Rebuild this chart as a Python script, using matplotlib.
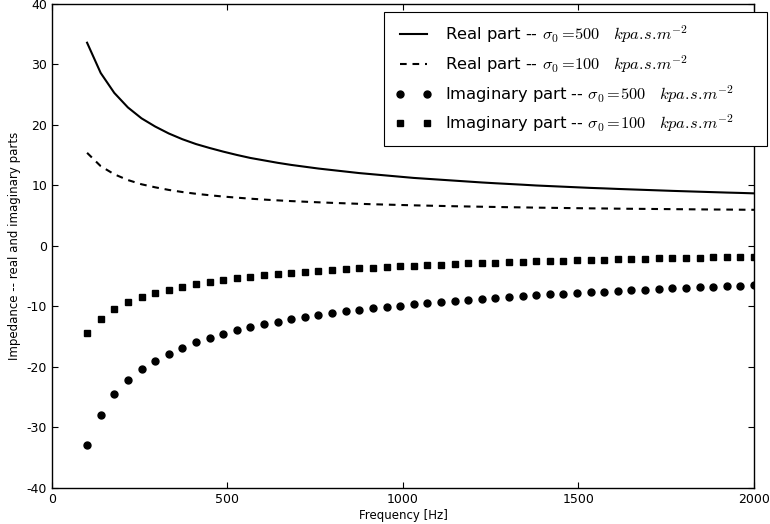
import numpy as np
import matplotlib
matplotlib.use('Agg')
import matplotlib.pyplot as plt

# Frequencies of the sampled points (50 points from 100 to 2000 Hz)
freq = np.linspace(100, 2000, 50)

# Values
real_500 = [33.6, 28.6, 25.3, 22.9, 21.1, 19.75, 18.6, 17.65, 16.85, 16.2,
            15.6, 15.05, 14.55, 14.15, 13.75, 13.4, 13.1, 12.8, 12.55, 12.3,
            12.05, 11.85, 11.65, 11.45, 11.25, 11.1, 10.95, 10.8, 10.65, 10.5,
            10.37, 10.25, 10.13, 10.0, 9.9, 9.8, 9.7, 9.6, 9.52, 9.43,
            9.35, 9.27, 9.19, 9.11, 9.04, 8.97, 8.9, 8.83, 8.77, 8.7]
real_100 = [15.4, 13.2, 11.85, 10.9, 10.2, 9.7, 9.27, 8.92, 8.63, 8.39,
            8.17, 7.99, 7.82, 7.67, 7.54, 7.42, 7.32, 7.22, 7.13, 7.05,
            6.97, 6.9, 6.84, 6.78, 6.72, 6.67, 6.62, 6.57, 6.53, 6.49,
            6.45, 6.41, 6.38, 6.34, 6.31, 6.28, 6.25, 6.22, 6.2, 6.17,
            6.15, 6.13, 6.11, 6.09, 6.07, 6.05, 6.03, 6.02, 6.0, 5.98]
imag_500 = [-32.9, -27.9, -24.5, -22.1, -20.35, -18.95, -17.8, -16.8, -15.95, -15.2,
            -14.55, -13.95, -13.45, -12.95, -12.5, -12.1, -11.75, -11.42, -11.1, -10.82,
            -10.55, -10.3, -10.06, -9.84, -9.63, -9.43, -9.24, -9.06, -8.89, -8.73,
            -8.57, -8.42, -8.28, -8.14, -8.01, -7.88, -7.76, -7.64, -7.53, -7.42,
            -7.31, -7.21, -7.11, -7.01, -6.92, -6.83, -6.74, -6.65, -6.57, -6.49]
imag_100 = [-14.3, -12.0, -10.45, -9.3, -8.45, -7.8, -7.2, -6.75, -6.35, -5.95,
            -5.65, -5.35, -5.08, -4.85, -4.65, -4.45, -4.28, -4.12, -3.97, -3.83,
            -3.7, -3.58, -3.46, -3.35, -3.25, -3.15, -3.06, -2.97, -2.89, -2.81,
            -2.73, -2.66, -2.59, -2.53, -2.47, -2.41, -2.35, -2.3, -2.25, -2.2,
            -2.15, -2.1, -2.06, -2.02, -1.98, -1.94, -1.9, -1.86, -1.83, -1.8]

plt.rcParams['mathtext.fontset'] = 'cm'
plt.rcParams['axes.unicode_minus'] = False

fig = plt.figure(figsize=(7.7, 5.24), dpi=100)
ax = fig.add_axes([0.0675, 0.0687, 0.9117, 0.9237])

unit = r'\quad kpa.\!s.\!m^{-2}$'
ax.plot(freq, real_500, 'k-', linewidth=1.5,
        label=r'Real part -- $\sigma_0 =\!500 ' + unit)
ax.plot(freq, real_100, 'k', linestyle=(0, (3.2, 2.8)), linewidth=1.5,
        label=r'Real part -- $\sigma_0 =\!100 ' + unit)
ax.plot(freq, imag_500, 'ko', markersize=5, linestyle='none',
        label=r'Imaginary part -- $\sigma_0 =\!500 ' + unit)
ax.plot(freq, imag_100, 'ks', markersize=5, linestyle='none',
        label=r'Imaginary part -- $\sigma_0 =\!100 ' + unit)

ax.set_xlim(0, 2000)
ax.set_ylim(-40, 40)
ax.set_xticks([0, 500, 1000, 1500, 2000])
ax.set_yticks(range(-40, 41, 10))
ax.tick_params(direction='in', top=True, right=True, length=4.5, labelsize=9)
for s in ax.spines.values():
    s.set_linewidth(1.0)

ax.set_xlabel('Frequency [Hz]', fontsize=8.5, labelpad=2)
ax.set_ylabel('Impedance -- real and imaginary parts', fontsize=8.5)

# legend box spans slightly past the right spine, as in the original
leg = ax.legend(loc='upper right', bbox_to_anchor=(0.473, 0.0, 0.5455, 0.9835),
                mode='expand', borderaxespad=0, numpoints=2, fontsize=11.8,
                handlelength=2.2, handletextpad=0.85, labelspacing=0.5,
                borderpad=0.7, fancybox=False, framealpha=1,
                edgecolor='black')
leg.get_frame().set_linewidth(0.8)

plt.savefig('out.png', dpi=100, facecolor='white')
